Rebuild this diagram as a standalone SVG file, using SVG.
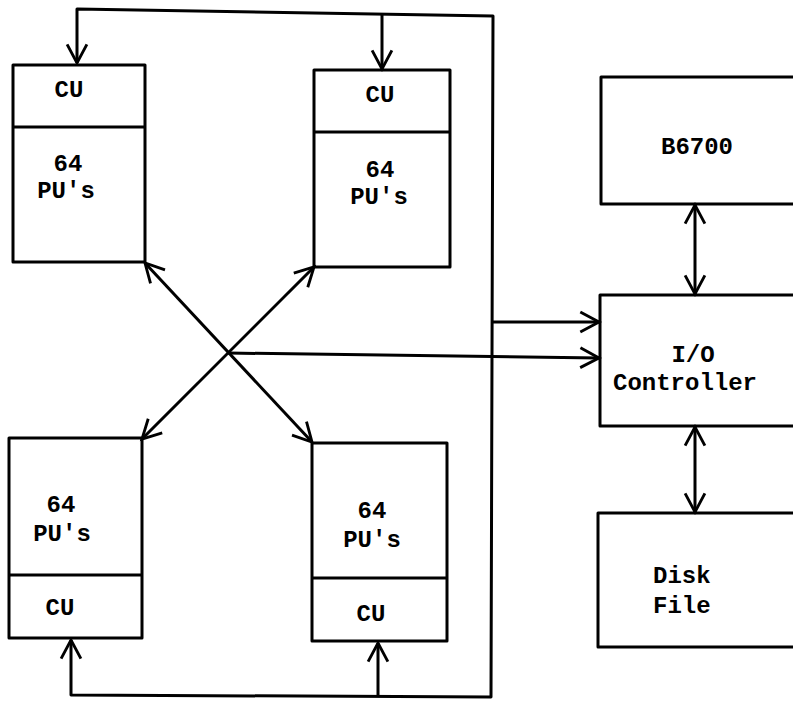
<svg xmlns="http://www.w3.org/2000/svg" width="793" height="703" viewBox="0 0 793 703">
<style>
.box{fill:none;stroke:#000;stroke-width:3;stroke-linejoin:round}
.ln{fill:none;stroke:#000;stroke-width:3;stroke-linejoin:round}
.t{font-family:"Liberation Mono","Courier New",monospace;font-size:24px;font-weight:bold;fill:#000;text-anchor:middle}
.ts{font-family:"Liberation Mono","Courier New",monospace;font-size:24px;font-weight:bold;fill:#000}
</style>
<defs>
<marker id="ah" viewBox="0 0 20 20" refX="18" refY="10" markerWidth="22" markerHeight="22" markerUnits="userSpaceOnUse" orient="auto-start-reverse" overflow="visible">
<path d="M1,1 L18,10 L1,19" fill="none" stroke="#000" stroke-width="2.6" stroke-linejoin="miter"/>
</marker>
</defs>
<rect width="793" height="703" fill="#fff"/>
<g id="connectors">
<path class="ln" d="M77,63 L77,9 L493,16 L491,697 L71,695 L71,640" marker-start="url(#ah)" marker-end="url(#ah)"/>
<path class="ln" d="M382,13 L382,69" marker-end="url(#ah)"/>
<path class="ln" d="M378,696 L378,643" marker-end="url(#ah)"/>
<path class="ln" d="M492,322 L599,322" marker-end="url(#ah)"/>
<path class="ln" d="M145,263 L312,442" marker-start="url(#ah)" marker-end="url(#ah)"/>
<path class="ln" d="M314,267 L142,439" marker-start="url(#ah)" marker-end="url(#ah)"/>
<path class="ln" d="M228,353 L599,358" marker-end="url(#ah)"/>
<path class="ln" d="M695,205 L695,294" marker-start="url(#ah)" marker-end="url(#ah)"/>
<path class="ln" d="M695,427 L695,512" marker-start="url(#ah)" marker-end="url(#ah)"/>
</g>
<g id="node-tl">
<rect class="box" x="13" y="65" width="132" height="197"/>
<line class="ln" x1="13" y1="127" x2="145" y2="127"/>
<text class="t" x="69" y="97">CU</text>
<text class="t" x="68" y="171">64</text>
<text class="t" x="66" y="198">PU's</text>
</g>
<g id="node-tr">
<rect class="box" x="314" y="70" width="136" height="197"/>
<line class="ln" x1="314" y1="132" x2="450" y2="132"/>
<text class="t" x="380" y="102">CU</text>
<text class="t" x="380" y="177">64</text>
<text class="t" x="379" y="204">PU's</text>
</g>
<g id="node-bl">
<rect class="box" x="9" y="438" width="133" height="200"/>
<line class="ln" x1="9" y1="575" x2="142" y2="575"/>
<text class="t" x="61" y="512">64</text>
<text class="t" x="62" y="541">PU's</text>
<text class="t" x="60" y="615">CU</text>
</g>
<g id="node-br">
<rect class="box" x="312" y="443" width="135" height="198"/>
<line class="ln" x1="312" y1="578" x2="447" y2="578"/>
<text class="t" x="372" y="518">64</text>
<text class="t" x="372" y="547">PU's</text>
<text class="t" x="371" y="621">CU</text>
</g>
<g id="node-b6700">
<rect class="box" x="601" y="77" width="300" height="127"/>
<text class="t" x="697" y="154">B6700</text>
</g>
<g id="node-io">
<rect class="box" x="600" y="295" width="300" height="131"/>
<text class="t" x="693" y="362">I/O</text>
<text class="t" x="685" y="390">Controller</text>
</g>
<g id="node-disk">
<rect class="box" x="598" y="513" width="300" height="134"/>
<text class="ts" x="653" y="583">Disk</text>
<text class="ts" x="653" y="613">File</text>
</g>
</svg>
